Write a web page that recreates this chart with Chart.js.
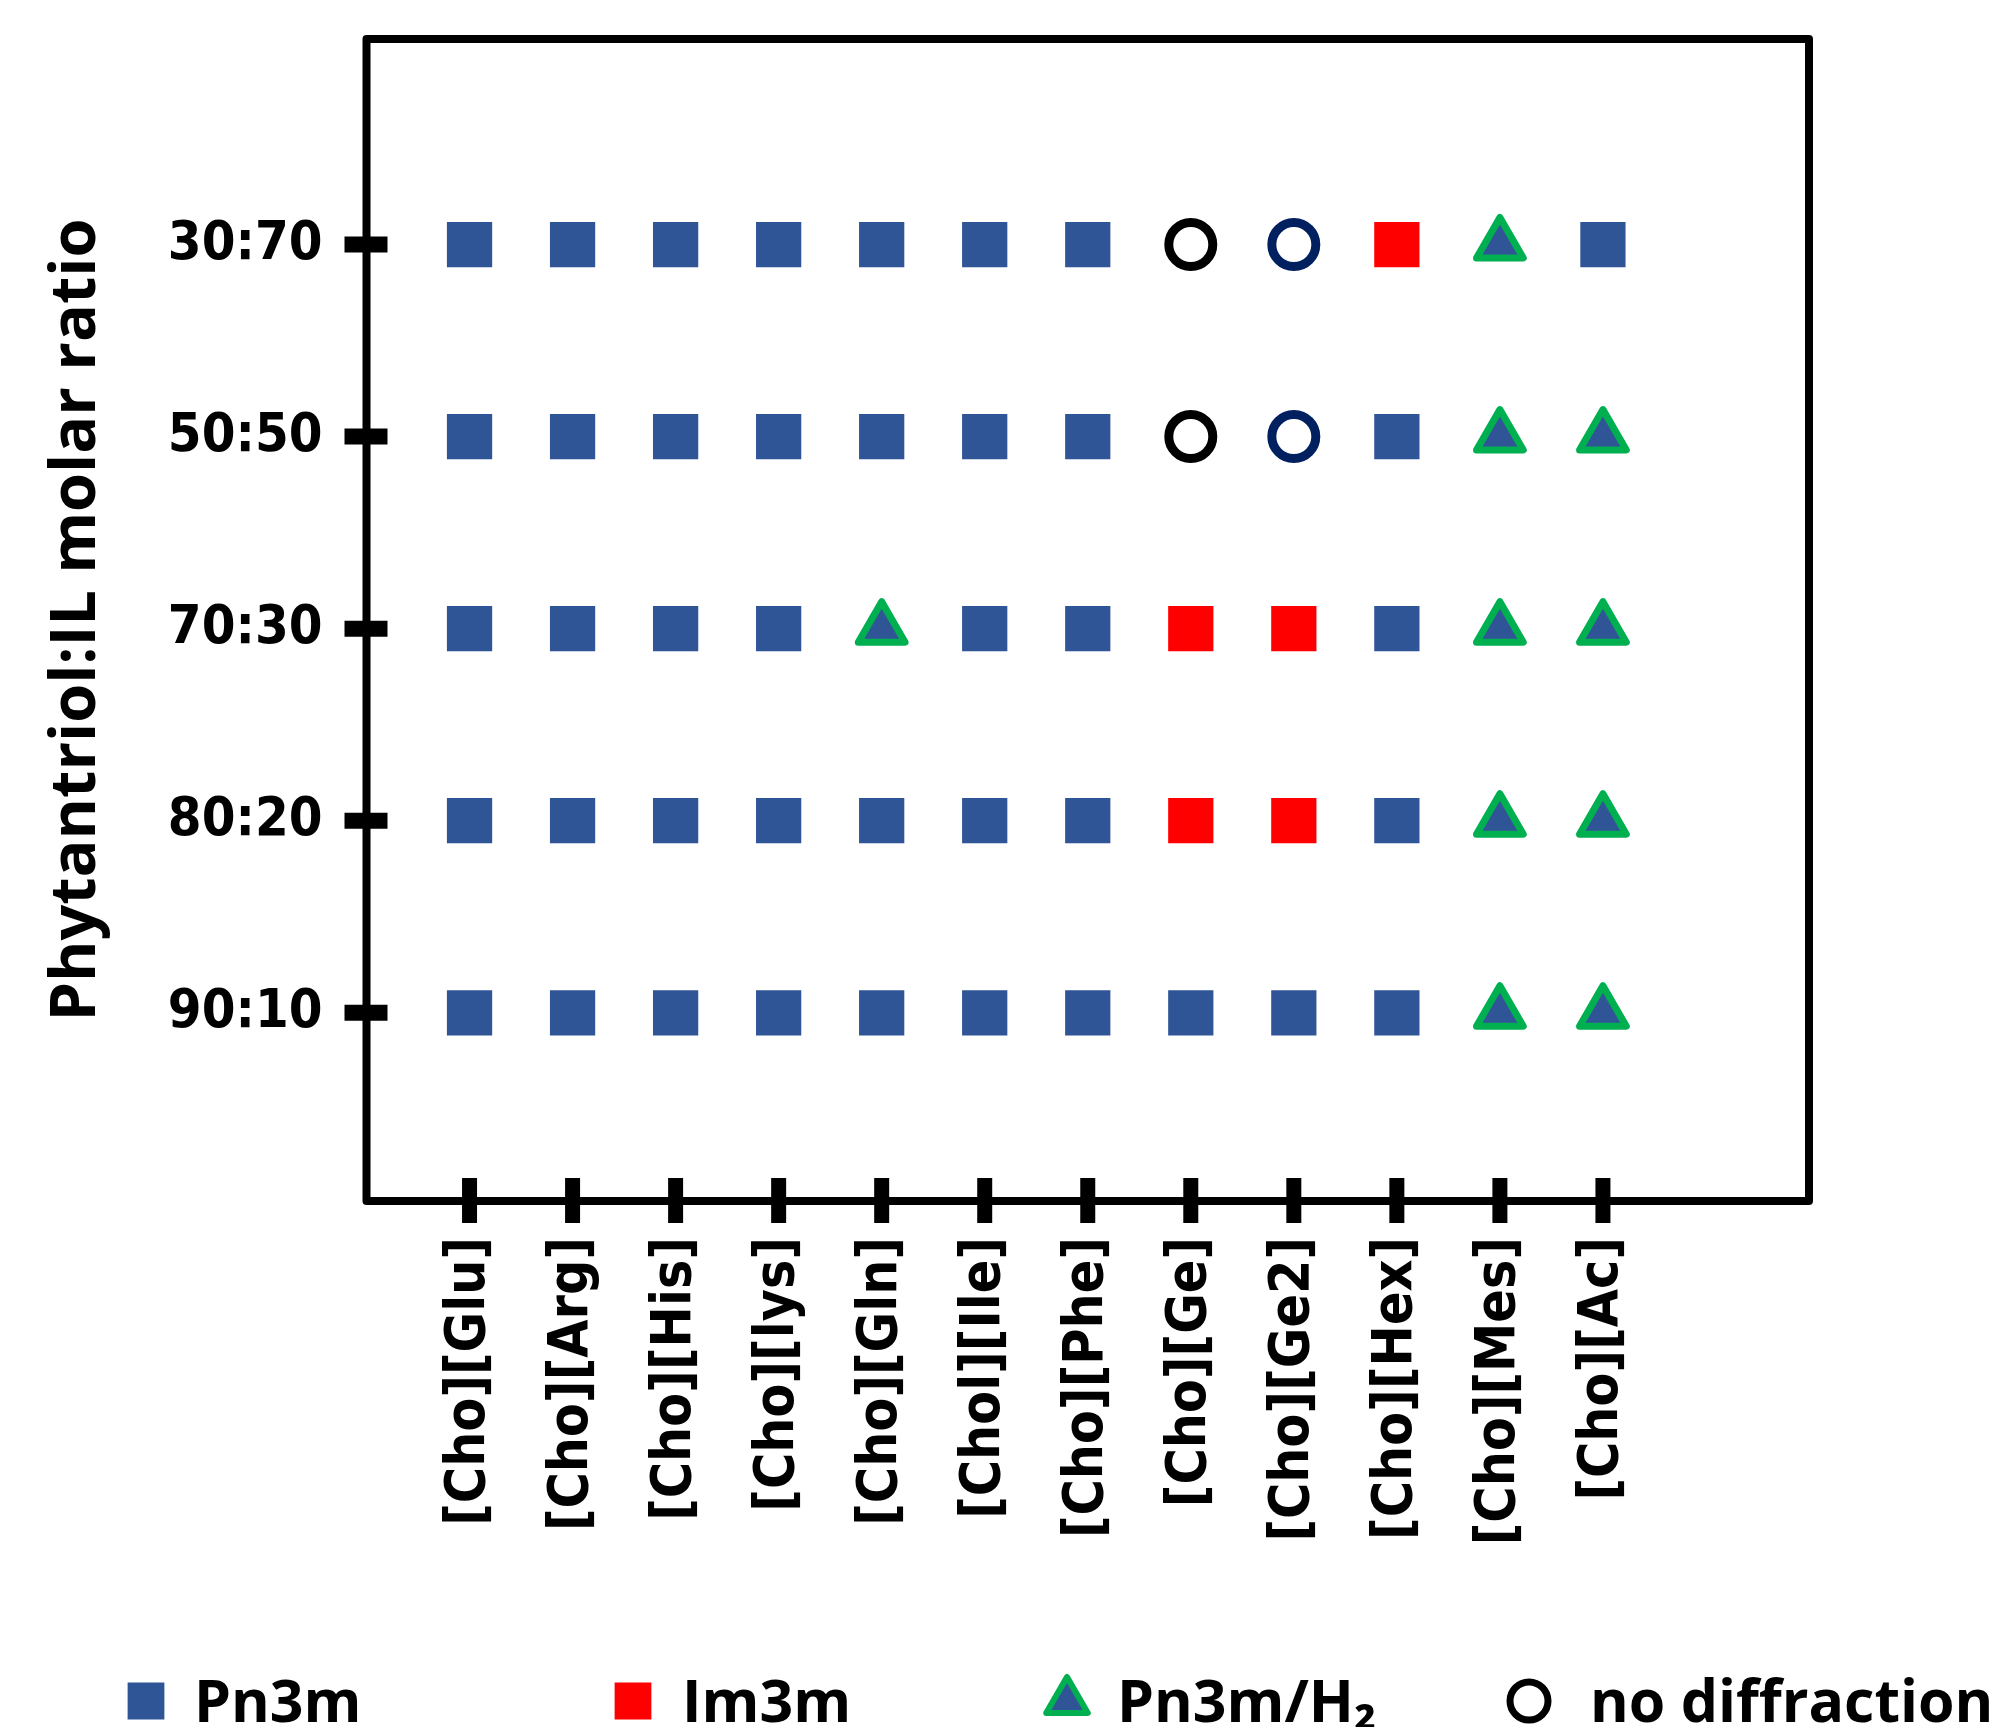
<!DOCTYPE html>
<html>
<head>
<meta charset="utf-8">
<script src="https://cdn.jsdelivr.net/npm/chart.js@4/dist/chart.umd.min.js"></script>
<style>
  html, body { margin: 0; padding: 0; background: #fff; overflow: hidden; }
</style>
</head>
<body>
<canvas id="phaseChart" width="2006" height="1727"></canvas>
<script>
const ionicLiquids = ['[Cho][Glu]', '[Cho][Arg]', '[Cho][His]', '[Cho][lys]', '[Cho][Gln]', '[Chol][Ile]',
                      '[Cho][Phe]', '[Cho][Ge]', '[Cho][Ge2]', '[Cho][Hex]', '[Cho][Mes]', '[Cho][Ac]'];
const ratios = ['30:70', '50:50', '70:30', '80:20', '90:10'];

// phase found for each IL, one list per phytantriol:IL ratio
const phases3070 = ['Pn3m', 'Pn3m', 'Pn3m', 'Pn3m', 'Pn3m', 'Pn3m', 'Pn3m', 'none', 'none', 'Im3m', 'Pn3m/H2', 'Pn3m'];
const phases5050 = ['Pn3m', 'Pn3m', 'Pn3m', 'Pn3m', 'Pn3m', 'Pn3m', 'Pn3m', 'none', 'none', 'Pn3m', 'Pn3m/H2', 'Pn3m/H2'];
const phases7030 = ['Pn3m', 'Pn3m', 'Pn3m', 'Pn3m', 'Pn3m/H2', 'Pn3m', 'Pn3m', 'Im3m', 'Im3m', 'Pn3m', 'Pn3m/H2', 'Pn3m/H2'];
const phases8020 = ['Pn3m', 'Pn3m', 'Pn3m', 'Pn3m', 'Pn3m', 'Pn3m', 'Pn3m', 'Im3m', 'Im3m', 'Pn3m', 'Pn3m/H2', 'Pn3m/H2'];
const phases9010 = ['Pn3m', 'Pn3m', 'Pn3m', 'Pn3m', 'Pn3m', 'Pn3m', 'Pn3m', 'Pn3m', 'Pn3m', 'Pn3m', 'Pn3m/H2', 'Pn3m/H2'];
const phaseRows = [phases3070, phases5050, phases7030, phases8020, phases9010];

const BLUE = '#2F5597';
const RED = '#FF0000';
const GREEN = '#00B050';
const NAVY = '#002060';

const condFont = '"DejaVu Sans Condensed", "DejaVu Sans", sans-serif';
const legendFont = '"Open Sans", sans-serif';

function pointsFor(phase) {
    const pts = [];
    phaseRows.forEach((row, r) => {
        row.forEach((p, i) => {
            if (p === phase) pts.push({ x: i, y: r });
        });
    });
    return pts;
}

// outline of the plot box + the thick ticks that cross it
const framePlugin = {
    id: 'frame',
    afterDraw(chart) {
        const { ctx, chartArea: { left, top, right, bottom }, scales: { x, y } } = chart;
        ctx.save();
        ctx.strokeStyle = '#000';
        ctx.lineWidth = 8;
        ctx.lineJoin = 'round';
        ctx.strokeRect(left, top, right - left, bottom - top);
        ctx.lineCap = 'butt';
        ctx.lineWidth = 16;
        ratios.forEach((_, i) => {
            const py = y.getPixelForValue(i);
            ctx.beginPath();
            ctx.moveTo(left - 22, py);
            ctx.lineTo(left + 21, py);
            ctx.stroke();
        });
        ctx.lineWidth = 15;
        ionicLiquids.forEach((_, i) => {
            const px = x.getPixelForValue(i);
            ctx.beginPath();
            ctx.moveTo(px, bottom - 23);
            ctx.lineTo(px, bottom + 22);
            ctx.stroke();
        });
        ctx.restore();
    }
};

const roundJoins = {
    id: 'roundJoins',
    beforeDatasetsDraw(chart) { chart.ctx.lineJoin = 'round'; }
};

// legend row along the bottom edge
const legendItems = [
    { text: 'Pn3m', pointStyle: 'rect', fill: BLUE, stroke: BLUE, lw: 0, r: 26, cx: 146, gap: 48 },
    { text: 'Im3m', pointStyle: 'rect', fill: RED, stroke: RED, lw: 0, r: 26, cx: 633, gap: 49 },
    { text: 'Pn3m/H\u2082', pointStyle: 'triangle', fill: BLUE, stroke: GREEN, lw: 6, r: 24, cx: 1067, gap: 50 },
    { text: 'no diffraction', pointStyle: 'circle', fill: '#fff', stroke: '#000', lw: 7, r: 19, cx: 1529, gap: 61 }
];
const legendPlugin = {
    id: 'bottomLegend',
    afterDraw(chart) {
        const { ctx } = chart;
        const cy = 1701;
        ctx.save();
        ctx.lineJoin = 'round';
        legendItems.forEach(it => {
            ctx.fillStyle = it.fill;
            ctx.strokeStyle = it.stroke;
            ctx.lineWidth = it.lw;
            Chart.helpers.drawPoint(ctx, { pointStyle: it.pointStyle, radius: it.r, rotation: 0, borderWidth: it.lw }, it.cx, cy);
            ctx.fillStyle = '#000';
            ctx.font = 'bold 59px ' + legendFont;
            ctx.textAlign = 'left';
            ctx.textBaseline = 'alphabetic';
            ctx.fillText(it.text, it.cx + it.gap, 1722);
        });
        ctx.restore();
    }
};

function noPadding(s) {
    s.paddingTop = 0;
    s.paddingBottom = 0;
    s.paddingLeft = 0;
    s.paddingRight = 0;
}

Chart.defaults.color = '#000';

new Chart(document.getElementById('phaseChart'), {
    type: 'scatter',
    data: {
        datasets: [
            {
                label: 'Pn3m',
                data: pointsFor('Pn3m'),
                pointStyle: 'rect',
                pointRadius: 32,
                pointHoverRadius: 32,
                pointBackgroundColor: BLUE,
                pointBorderWidth: 0
            },
            {
                label: 'Im3m',
                data: pointsFor('Im3m'),
                pointStyle: 'rect',
                pointRadius: 32,
                pointHoverRadius: 32,
                pointBackgroundColor: RED,
                pointBorderWidth: 0
            },
            {
                label: 'Pn3m/H2',
                data: pointsFor('Pn3m/H2'),
                pointStyle: 'triangle',
                pointRadius: 27,
                pointHoverRadius: 27,
                pointBackgroundColor: BLUE,
                pointBorderColor: GREEN,
                pointBorderWidth: 7
            },
            {
                label: 'no diffraction',
                data: pointsFor('none'),
                pointStyle: 'circle',
                pointRadius: 22,
                pointHoverRadius: 22,
                pointBackgroundColor: 'rgba(255,255,255,0)',
                pointBorderColor: c => (ionicLiquids[c.raw.x] === '[Cho][Ge2]' ? NAVY : '#000'),
                pointBorderWidth: 9
            }
        ]
    },
    options: {
        responsive: false,
        animation: false,
        layout: { padding: { top: 39, right: 197, bottom: 0, left: 0 } },
        plugins: {
            legend: { display: false },
            tooltip: { enabled: false }
        },
        scales: {
            x: {
                type: 'linear',
                min: -1,
                max: 13,
                afterBuildTicks: s => { s.ticks = ionicLiquids.map((_, i) => ({ value: i })); },
                afterFit: s => { s.height = 526; noPadding(s); },
                grid: { display: false, drawTicks: false },
                border: { display: false },
                ticks: {
                    autoSkip: false,
                    minRotation: 90,
                    maxRotation: 90,
                    padding: 36,
                    font: { family: condFont, size: 55, weight: 'bold' },
                    callback: v => ionicLiquids[v]
                }
            },
            y: {
                type: 'linear',
                reverse: true,
                min: -1.07,
                max: 4.98,
                afterBuildTicks: s => { s.ticks = ratios.map((_, i) => ({ value: i })); },
                afterFit: s => { s.width = 366.5; noPadding(s); },
                grid: { display: false, drawTicks: false },
                border: { display: false },
                ticks: {
                    padding: 44,
                    font: { family: condFont, size: 54, weight: 'bold' },
                    callback: v => ratios[v]
                },
                title: {
                    display: true,
                    text: 'Phytantriol:IL molar ratio',
                    font: { family: '"Open Sans", sans-serif', size: 63, weight: 'bold' },
                    padding: { top: 39, bottom: 0 }
                }
            }
        }
    },
    plugins: [roundJoins, framePlugin, legendPlugin]
});
</script>
</body>
</html>
